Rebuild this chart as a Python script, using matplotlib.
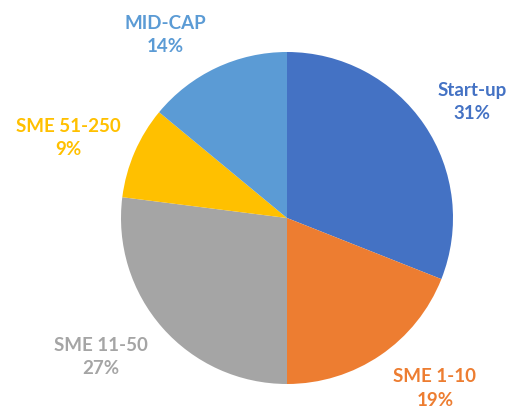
import numpy as np
import matplotlib
matplotlib.use("Agg")
import matplotlib.pyplot as plt

categories = ["Start-up", "SME 1-10", "SME 11-50", "SME 51-250", "MID-CAP"]
values = [31, 19, 27, 9, 14]
colors = ["#4472C4", "#ED7D31", "#A5A5A5", "#FFC000", "#5B9BD5"]
# label placement (distance in radii, angle offset in degrees from wedge middle)
label_dist = [1.315, 1.36, 1.40, 1.40, 1.325]
label_dang = [-2.1, 6.7, -4.6, 3.3, 8.5]

fig = plt.figure(figsize=(5.10, 4.09), dpi=100)
ax = fig.add_axes([(287 - 166) / 510, (409 - 384) / 409, 332 / 510, 332 / 409])
wedges, _ = ax.pie(values, colors=colors, startangle=90, counterclock=False,
                   radius=1.0, wedgeprops=dict(linewidth=0))
ax.set_xlim(-1, 1)
ax.set_ylim(-1, 1)
ax.set_aspect("auto")

total = sum(values)
for w, cat, v, c, d, da in zip(wedges, categories, values, colors, label_dist, label_dang):
    ang = np.deg2rad((w.theta1 + w.theta2) / 2 + da)
    x, y = d * np.cos(ang), d * np.sin(ang)
    ax.text(x, y, f"{cat}\n{v / total * 100:.0f}%", ha="center", va="center",
            color=c, fontsize=13.5, fontweight="bold", family=["Lato", "DejaVu Sans"],
            linespacing=1.45, clip_on=False)

fig.savefig("out.png", dpi=100)
